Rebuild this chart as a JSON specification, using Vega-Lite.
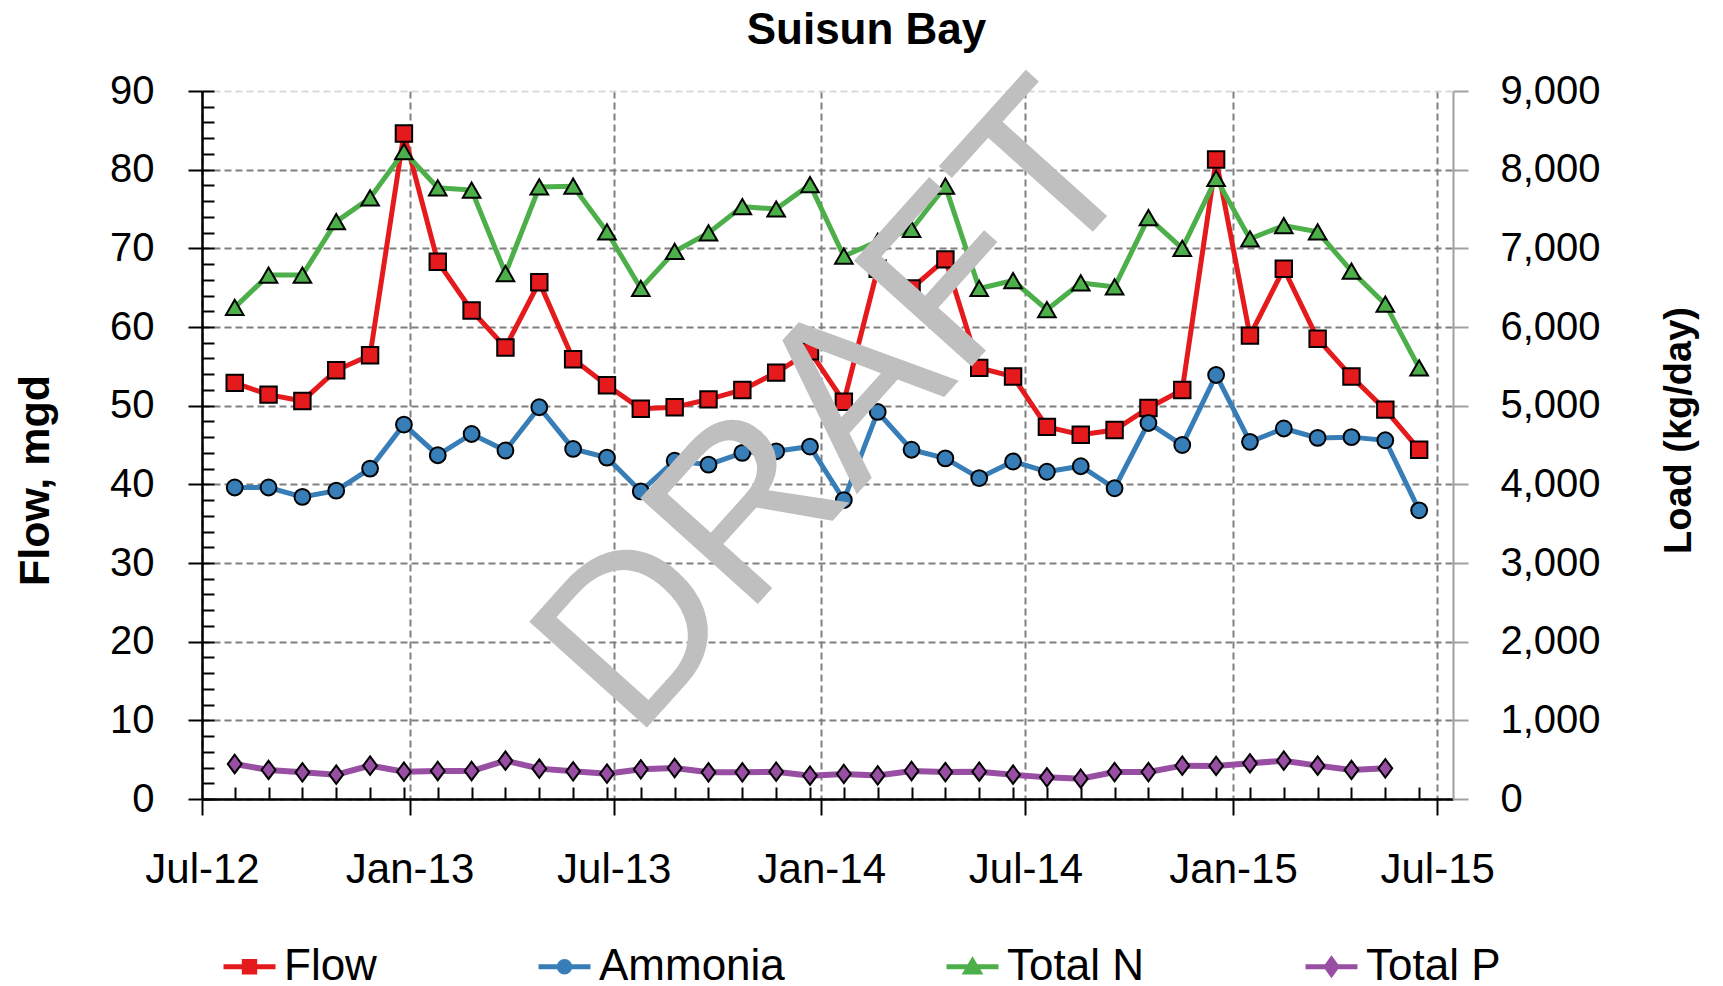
{
  "$schema": "https://vega.github.io/schema/vega-lite/v6.json",
  "width": 1251,
  "height": 708,
  "autosize": {"type": "none"},
  "padding": {"left": 202, "top": 91, "right": 270, "bottom": 187},
  "background": "white",
  "title": {"text": "Suisun Bay", "fontSize": 44, "fontWeight": "bold", "color": "black", "anchor": "middle", "frame": "group", "dx": 39, "offset": -39, "baseline": "alphabetic", "font": "Liberation Sans"},
  "config": {
    "view": {"stroke": null},
    "font": "Liberation Sans",
    "axis": {"labelFont": "Liberation Sans", "titleFont": "Liberation Sans", "labelColor": "black", "titleColor": "black"},
    "legend": {"labelFont": "Liberation Sans"}
  },
  "datasets": {
    "d": [
      {"date": "2012-07-30", "series": "Flow", "value": 52.9},
      {"date": "2012-08-29", "series": "Flow", "value": 51.4},
      {"date": "2012-09-28", "series": "Flow", "value": 50.6},
      {"date": "2012-10-28", "series": "Flow", "value": 54.5},
      {"date": "2012-11-27", "series": "Flow", "value": 56.4},
      {"date": "2012-12-27", "series": "Flow", "value": 84.6},
      {"date": "2013-01-26", "series": "Flow", "value": 68.3},
      {"date": "2013-02-25", "series": "Flow", "value": 62.1},
      {"date": "2013-03-27", "series": "Flow", "value": 57.4},
      {"date": "2013-04-26", "series": "Flow", "value": 65.7},
      {"date": "2013-05-26", "series": "Flow", "value": 55.9},
      {"date": "2013-06-25", "series": "Flow", "value": 52.6},
      {"date": "2013-07-25", "series": "Flow", "value": 49.6},
      {"date": "2013-08-24", "series": "Flow", "value": 49.8},
      {"date": "2013-09-23", "series": "Flow", "value": 50.8},
      {"date": "2013-10-23", "series": "Flow", "value": 52.0},
      {"date": "2013-11-22", "series": "Flow", "value": 54.2},
      {"date": "2013-12-22", "series": "Flow", "value": 56.9},
      {"date": "2014-01-21", "series": "Flow", "value": 50.5},
      {"date": "2014-02-20", "series": "Flow", "value": 67.4},
      {"date": "2014-03-22", "series": "Flow", "value": 64.9},
      {"date": "2014-04-21", "series": "Flow", "value": 68.6},
      {"date": "2014-05-21", "series": "Flow", "value": 54.8},
      {"date": "2014-06-20", "series": "Flow", "value": 53.7},
      {"date": "2014-07-20", "series": "Flow", "value": 47.3},
      {"date": "2014-08-19", "series": "Flow", "value": 46.3},
      {"date": "2014-09-18", "series": "Flow", "value": 46.9},
      {"date": "2014-10-18", "series": "Flow", "value": 49.7},
      {"date": "2014-11-17", "series": "Flow", "value": 52.0},
      {"date": "2014-12-17", "series": "Flow", "value": 81.3},
      {"date": "2015-01-16", "series": "Flow", "value": 58.9},
      {"date": "2015-02-15", "series": "Flow", "value": 67.4},
      {"date": "2015-03-17", "series": "Flow", "value": 58.5},
      {"date": "2015-04-16", "series": "Flow", "value": 53.7},
      {"date": "2015-05-16", "series": "Flow", "value": 49.5},
      {"date": "2015-06-15", "series": "Flow", "value": 44.4},
      {"date": "2012-07-30", "series": "Ammonia", "value": 3960},
      {"date": "2012-08-29", "series": "Ammonia", "value": 3960},
      {"date": "2012-09-28", "series": "Ammonia", "value": 3840},
      {"date": "2012-10-28", "series": "Ammonia", "value": 3920},
      {"date": "2012-11-27", "series": "Ammonia", "value": 4200},
      {"date": "2012-12-27", "series": "Ammonia", "value": 4760},
      {"date": "2013-01-26", "series": "Ammonia", "value": 4370},
      {"date": "2013-02-25", "series": "Ammonia", "value": 4640},
      {"date": "2013-03-27", "series": "Ammonia", "value": 4430},
      {"date": "2013-04-26", "series": "Ammonia", "value": 4980},
      {"date": "2013-05-26", "series": "Ammonia", "value": 4450},
      {"date": "2013-06-25", "series": "Ammonia", "value": 4340},
      {"date": "2013-07-25", "series": "Ammonia", "value": 3910},
      {"date": "2013-08-24", "series": "Ammonia", "value": 4300},
      {"date": "2013-09-23", "series": "Ammonia", "value": 4250},
      {"date": "2013-10-23", "series": "Ammonia", "value": 4400},
      {"date": "2013-11-22", "series": "Ammonia", "value": 4420},
      {"date": "2013-12-22", "series": "Ammonia", "value": 4480},
      {"date": "2014-01-21", "series": "Ammonia", "value": 3800},
      {"date": "2014-02-20", "series": "Ammonia", "value": 4920},
      {"date": "2014-03-22", "series": "Ammonia", "value": 4440},
      {"date": "2014-04-21", "series": "Ammonia", "value": 4330},
      {"date": "2014-05-21", "series": "Ammonia", "value": 4080},
      {"date": "2014-06-20", "series": "Ammonia", "value": 4290},
      {"date": "2014-07-20", "series": "Ammonia", "value": 4160},
      {"date": "2014-08-19", "series": "Ammonia", "value": 4230},
      {"date": "2014-09-18", "series": "Ammonia", "value": 3950},
      {"date": "2014-10-18", "series": "Ammonia", "value": 4780},
      {"date": "2014-11-17", "series": "Ammonia", "value": 4500},
      {"date": "2014-12-17", "series": "Ammonia", "value": 5390},
      {"date": "2015-01-16", "series": "Ammonia", "value": 4540},
      {"date": "2015-02-15", "series": "Ammonia", "value": 4710},
      {"date": "2015-03-17", "series": "Ammonia", "value": 4590},
      {"date": "2015-04-16", "series": "Ammonia", "value": 4600},
      {"date": "2015-05-16", "series": "Ammonia", "value": 4560},
      {"date": "2015-06-15", "series": "Ammonia", "value": 3670},
      {"date": "2012-07-30", "series": "Total N", "value": 6250},
      {"date": "2012-08-29", "series": "Total N", "value": 6660},
      {"date": "2012-09-28", "series": "Total N", "value": 6660},
      {"date": "2012-10-28", "series": "Total N", "value": 7340},
      {"date": "2012-11-27", "series": "Total N", "value": 7640},
      {"date": "2012-12-27", "series": "Total N", "value": 8230},
      {"date": "2013-01-26", "series": "Total N", "value": 7770},
      {"date": "2013-02-25", "series": "Total N", "value": 7740},
      {"date": "2013-03-27", "series": "Total N", "value": 6680},
      {"date": "2013-04-26", "series": "Total N", "value": 7780},
      {"date": "2013-05-26", "series": "Total N", "value": 7790},
      {"date": "2013-06-25", "series": "Total N", "value": 7210},
      {"date": "2013-07-25", "series": "Total N", "value": 6490},
      {"date": "2013-08-24", "series": "Total N", "value": 6960},
      {"date": "2013-09-23", "series": "Total N", "value": 7195},
      {"date": "2013-10-23", "series": "Total N", "value": 7530},
      {"date": "2013-11-22", "series": "Total N", "value": 7500},
      {"date": "2013-12-22", "series": "Total N", "value": 7810},
      {"date": "2014-01-21", "series": "Total N", "value": 6900},
      {"date": "2014-02-20", "series": "Total N", "value": 7090},
      {"date": "2014-03-22", "series": "Total N", "value": 7240},
      {"date": "2014-04-21", "series": "Total N", "value": 7790},
      {"date": "2014-05-21", "series": "Total N", "value": 6490},
      {"date": "2014-06-20", "series": "Total N", "value": 6590},
      {"date": "2014-07-20", "series": "Total N", "value": 6220},
      {"date": "2014-08-19", "series": "Total N", "value": 6560},
      {"date": "2014-09-18", "series": "Total N", "value": 6510},
      {"date": "2014-10-18", "series": "Total N", "value": 7390},
      {"date": "2014-11-17", "series": "Total N", "value": 7000},
      {"date": "2014-12-17", "series": "Total N", "value": 7890},
      {"date": "2015-01-16", "series": "Total N", "value": 7120},
      {"date": "2015-02-15", "series": "Total N", "value": 7290},
      {"date": "2015-03-17", "series": "Total N", "value": 7210},
      {"date": "2015-04-16", "series": "Total N", "value": 6710},
      {"date": "2015-05-16", "series": "Total N", "value": 6290},
      {"date": "2015-06-15", "series": "Total N", "value": 5480},
      {"date": "2012-07-30", "series": "Total P", "value": 445},
      {"date": "2012-08-29", "series": "Total P", "value": 369},
      {"date": "2012-09-28", "series": "Total P", "value": 339},
      {"date": "2012-10-28", "series": "Total P", "value": 309},
      {"date": "2012-11-27", "series": "Total P", "value": 424},
      {"date": "2012-12-27", "series": "Total P", "value": 347},
      {"date": "2013-01-26", "series": "Total P", "value": 356},
      {"date": "2013-02-25", "series": "Total P", "value": 356},
      {"date": "2013-03-27", "series": "Total P", "value": 487},
      {"date": "2013-04-26", "series": "Total P", "value": 386},
      {"date": "2013-05-26", "series": "Total P", "value": 352},
      {"date": "2013-06-25", "series": "Total P", "value": 322},
      {"date": "2013-07-25", "series": "Total P", "value": 377},
      {"date": "2013-08-24", "series": "Total P", "value": 394},
      {"date": "2013-09-23", "series": "Total P", "value": 339},
      {"date": "2013-10-23", "series": "Total P", "value": 339},
      {"date": "2013-11-22", "series": "Total P", "value": 347},
      {"date": "2013-12-22", "series": "Total P", "value": 296},
      {"date": "2014-01-21", "series": "Total P", "value": 318},
      {"date": "2014-02-20", "series": "Total P", "value": 300},
      {"date": "2014-03-22", "series": "Total P", "value": 356},
      {"date": "2014-04-21", "series": "Total P", "value": 343},
      {"date": "2014-05-21", "series": "Total P", "value": 347},
      {"date": "2014-06-20", "series": "Total P", "value": 309},
      {"date": "2014-07-20", "series": "Total P", "value": 275},
      {"date": "2014-08-19", "series": "Total P", "value": 258},
      {"date": "2014-09-18", "series": "Total P", "value": 343},
      {"date": "2014-10-18", "series": "Total P", "value": 343},
      {"date": "2014-11-17", "series": "Total P", "value": 424},
      {"date": "2014-12-17", "series": "Total P", "value": 420},
      {"date": "2015-01-16", "series": "Total P", "value": 453},
      {"date": "2015-02-15", "series": "Total P", "value": 487},
      {"date": "2015-03-17", "series": "Total P", "value": 424},
      {"date": "2015-04-16", "series": "Total P", "value": 369},
      {"date": "2015-05-16", "series": "Total P", "value": 390}
    ],
    "wm": [{"t": "DRAFT"}]
  },
  "resolve": {"scale": {"y": "independent"}, "axis": {"x": "independent", "y": "independent"}},
  "layer": [
    {
      "data": {"name": "d"},
      "transform": [{"filter": "datum.series === 'Flow'"}],
      "mark": {"type": "line", "color": "#E41A1C", "strokeWidth": 5},
      "encoding": {
        "x": {"field": "date", "type": "temporal",
          "scale": {"type": "utc", "nice": false, "domain": [{"year": 2012, "month": 7, "date": 1, "utc": true}, {"year": 2015, "month": 7, "date": 15, "utc": true}]},
          "axis": {"orient": "bottom", "title": null,
            "values": [{"year": 2012, "month": 7, "date": 1, "utc": true}, {"year": 2013, "month": 1, "date": 1, "utc": true}, {"year": 2013, "month": 7, "date": 1, "utc": true}, {"year": 2014, "month": 1, "date": 1, "utc": true}, {"year": 2014, "month": 7, "date": 1, "utc": true}, {"year": 2015, "month": 1, "date": 1, "utc": true}, {"year": 2015, "month": 7, "date": 1, "utc": true}],
            "labelExpr": "utcFormat(datum.value, '%b-%y')",
            "labelFontSize": 42, "labelPadding": 34, "labelFlush": false, "labelOverlap": false,
            "tickSize": 16, "tickWidth": 2, "tickColor": "black",
            "domainColor": "black", "domainWidth": 2.5,
            "grid": true, "gridColor": "#808080", "gridDash": [7, 4], "gridWidth": 2}},
        "y": {"field": "value", "type": "quantitative",
          "scale": {"domain": [0, 90], "nice": false},
          "axis": {"orient": "left", "values": [0, 10, 20, 30, 40, 50, 60, 70, 80, 90],
            "title": "Flow, mgd", "titleFontSize": 43, "titleFontWeight": "bold",
            "titleX": -167, "titleY": 389, "titleAngle": 270, "titleAlign": "center", "titleBaseline": "middle",
            "labelFontSize": 40, "labelPadding": 34,
            "tickSize": 14, "tickWidth": 2, "tickColor": "black",
            "domainColor": "black", "domainWidth": 2.5,
            "grid": true, "gridColor": {"condition": {"test": "datum.value === 90", "value": "#d9d9d9"}, "value": "#808080"}, "gridDash": [7, 4], "gridWidth": 2}}
      }
    },
    {
      "data": {"name": "d"},
      "transform": [{"filter": "datum.series === 'Flow'"}],
      "mark": {"type": "point", "shape": "square", "size": 270, "filled": true, "fill": "#E41A1C", "stroke": "black", "strokeWidth": 2, "opacity": 1},
      "encoding": {
        "x": {"field": "date", "type": "temporal", "scale": {"type": "utc", "nice": false, "domain": [{"year": 2012, "month": 7, "date": 1, "utc": true}, {"year": 2015, "month": 7, "date": 15, "utc": true}]}, "axis": null},
        "y": {"field": "value", "type": "quantitative", "scale": {"domain": [0, 90], "nice": false}, "axis": null}
      }
    },
    {
      "data": {"name": "d"},
      "transform": [{"filter": "datum.series === 'Ammonia'"}],
      "mark": {"type": "line", "color": "#377EB8", "strokeWidth": 5},
      "encoding": {
        "x": {"field": "date", "type": "temporal", "scale": {"type": "utc", "nice": false, "domain": [{"year": 2012, "month": 7, "date": 1, "utc": true}, {"year": 2015, "month": 7, "date": 15, "utc": true}]}, "axis": null},
        "y": {"field": "value", "type": "quantitative", "scale": {"domain": [0, 9000], "nice": false},
          "axis": {"orient": "right", "values": [0, 1000, 2000, 3000, 4000, 5000, 6000, 7000, 8000, 9000],
            "labelExpr": "format(datum.value, ',')",
            "title": "Load (kg/day)", "titleFontSize": 38, "titleFontWeight": "bold",
            "titleX": 226, "titleY": 339, "titleAngle": 270, "titleAlign": "center", "titleBaseline": "middle",
            "labelFontSize": 40, "labelPadding": 32,
            "tickSize": 15, "tickWidth": 2, "tickColor": "#A0A0A0",
            "domainColor": "#A0A0A0", "domainWidth": 2, "grid": false}}
      }
    },
    {
      "data": {"name": "d"},
      "transform": [{"filter": "datum.series === 'Ammonia'"}],
      "mark": {"type": "point", "shape": "circle", "size": 250, "filled": true, "fill": "#377EB8", "stroke": "black", "strokeWidth": 2, "opacity": 1},
      "encoding": {
        "x": {"field": "date", "type": "temporal", "scale": {"type": "utc", "nice": false, "domain": [{"year": 2012, "month": 7, "date": 1, "utc": true}, {"year": 2015, "month": 7, "date": 15, "utc": true}]}, "axis": null},
        "y": {"field": "value", "type": "quantitative", "scale": {"domain": [0, 9000], "nice": false}, "axis": null}
      }
    },
    {
      "data": {"name": "d"},
      "transform": [{"filter": "datum.series === 'Total N'"}],
      "mark": {"type": "line", "color": "#4DAF4A", "strokeWidth": 5},
      "encoding": {
        "x": {"field": "date", "type": "temporal", "scale": {"type": "utc", "nice": false, "domain": [{"year": 2012, "month": 7, "date": 1, "utc": true}, {"year": 2015, "month": 7, "date": 15, "utc": true}]}, "axis": null},
        "y": {"field": "value", "type": "quantitative", "scale": {"domain": [0, 9000], "nice": false}, "axis": null}
      }
    },
    {
      "data": {"name": "d"},
      "transform": [{"filter": "datum.series === 'Total N'"}],
      "mark": {"type": "point", "shape": "triangle-up", "size": 310, "filled": true, "fill": "#4DAF4A", "stroke": "black", "strokeWidth": 2, "opacity": 1},
      "encoding": {
        "x": {"field": "date", "type": "temporal", "scale": {"type": "utc", "nice": false, "domain": [{"year": 2012, "month": 7, "date": 1, "utc": true}, {"year": 2015, "month": 7, "date": 15, "utc": true}]}, "axis": null},
        "y": {"field": "value", "type": "quantitative", "scale": {"domain": [0, 9000], "nice": false}, "axis": null}
      }
    },
    {
      "data": {"name": "d"},
      "transform": [{"filter": "datum.series === 'Total P'"}],
      "mark": {"type": "line", "color": "#984EA3", "strokeWidth": 6},
      "encoding": {
        "x": {"field": "date", "type": "temporal", "scale": {"type": "utc", "nice": false, "domain": [{"year": 2012, "month": 7, "date": 1, "utc": true}, {"year": 2015, "month": 7, "date": 15, "utc": true}]}, "axis": null},
        "y": {"field": "value", "type": "quantitative", "scale": {"domain": [0, 9000], "nice": false}, "axis": null}
      }
    },
    {
      "data": {"name": "d"},
      "transform": [{"filter": "datum.series === 'Total P'"}],
      "mark": {"type": "point", "shape": "M0,-1L0.75,0L0,1L-0.75,0Z", "size": 340, "filled": true, "fill": "#984EA3", "stroke": "black", "strokeWidth": 2, "opacity": 1},
      "encoding": {
        "x": {"field": "date", "type": "temporal", "scale": {"type": "utc", "nice": false, "domain": [{"year": 2012, "month": 7, "date": 1, "utc": true}, {"year": 2015, "month": 7, "date": 15, "utc": true}]}, "axis": null},
        "y": {"field": "value", "type": "quantitative", "scale": {"domain": [0, 9000], "nice": false}, "axis": null}
      }
    },
    {
      "data": {"name": "d"},
      "transform": [{"filter": "datum.value < -999"}],
      "mark": {"type": "point", "filled": true, "opacity": 1, "strokeWidth": 5},
      "encoding": {
        "x": {"field": "date", "type": "temporal", "scale": {"type": "utc", "nice": false, "domain": [{"year": 2012, "month": 7, "date": 1, "utc": true}, {"year": 2015, "month": 7, "date": 15, "utc": true}]},
          "axis": {"orient": "bottom", "title": null, "labels": false, "domain": false, "grid": false,
            "tickSize": -12, "tickWidth": 2, "tickColor": "black",
            "values": [
              {"year": 2012, "month": 7, "date": 30, "utc": true}, {"year": 2012, "month": 8, "date": 29, "utc": true}, {"year": 2012, "month": 9, "date": 28, "utc": true}, {"year": 2012, "month": 10, "date": 28, "utc": true}, {"year": 2012, "month": 11, "date": 27, "utc": true}, {"year": 2012, "month": 12, "date": 27, "utc": true},
              {"year": 2013, "month": 1, "date": 26, "utc": true}, {"year": 2013, "month": 2, "date": 25, "utc": true}, {"year": 2013, "month": 3, "date": 27, "utc": true}, {"year": 2013, "month": 4, "date": 26, "utc": true}, {"year": 2013, "month": 5, "date": 26, "utc": true}, {"year": 2013, "month": 6, "date": 25, "utc": true},
              {"year": 2013, "month": 7, "date": 25, "utc": true}, {"year": 2013, "month": 8, "date": 24, "utc": true}, {"year": 2013, "month": 9, "date": 23, "utc": true}, {"year": 2013, "month": 10, "date": 23, "utc": true}, {"year": 2013, "month": 11, "date": 22, "utc": true}, {"year": 2013, "month": 12, "date": 22, "utc": true},
              {"year": 2014, "month": 1, "date": 21, "utc": true}, {"year": 2014, "month": 2, "date": 20, "utc": true}, {"year": 2014, "month": 3, "date": 22, "utc": true}, {"year": 2014, "month": 4, "date": 21, "utc": true}, {"year": 2014, "month": 5, "date": 21, "utc": true}, {"year": 2014, "month": 6, "date": 20, "utc": true},
              {"year": 2014, "month": 7, "date": 20, "utc": true}, {"year": 2014, "month": 8, "date": 19, "utc": true}, {"year": 2014, "month": 9, "date": 18, "utc": true}, {"year": 2014, "month": 10, "date": 18, "utc": true}, {"year": 2014, "month": 11, "date": 17, "utc": true}, {"year": 2014, "month": 12, "date": 17, "utc": true},
              {"year": 2015, "month": 1, "date": 16, "utc": true}, {"year": 2015, "month": 2, "date": 15, "utc": true}, {"year": 2015, "month": 3, "date": 17, "utc": true}, {"year": 2015, "month": 4, "date": 16, "utc": true}, {"year": 2015, "month": 5, "date": 16, "utc": true}, {"year": 2015, "month": 6, "date": 15, "utc": true}
            ]}},
        "y": {"field": "value", "type": "quantitative", "scale": {"domain": [0, 90], "nice": false},
          "axis": {"orient": "left", "title": null, "labels": false, "domain": false, "grid": false,
            "tickSize": -12, "tickWidth": 2, "tickColor": "black",
            "values": [0, 2, 4, 6, 8, 10, 12, 14, 16, 18, 20, 22, 24, 26, 28, 30, 32, 34, 36, 38, 40, 42, 44, 46, 48, 50, 52, 54, 56, 58, 60, 62, 64, 66, 68, 70, 72, 74, 76, 78, 80, 82, 84, 86, 88, 90]}},
        "fill": {"field": "series", "type": "nominal",
          "scale": {"domain": ["Flow", "Ammonia", "Total N", "Total P"], "range": ["#E41A1C", "#377EB8", "#4DAF4A", "#984EA3"]},
          "legend": {"orient": "none", "legendX": 9, "legendY": 837, "direction": "horizontal", "columns": 4, "title": null, "labelFontSize": 44, "labelColor": "black", "labelOffset": 6, "symbolSize": 2704, "symbolStrokeWidth": 5, "columnPadding": 151, "padding": 10, "labelLimit": 400}},
        "stroke": {"field": "series", "type": "nominal",
          "scale": {"domain": ["Flow", "Ammonia", "Total N", "Total P"], "range": ["#E41A1C", "#377EB8", "#4DAF4A", "#984EA3"]},
          "legend": {"orient": "none", "legendX": 9, "legendY": 837, "direction": "horizontal", "columns": 4, "title": null, "labelFontSize": 44, "labelColor": "black", "labelOffset": 6, "symbolSize": 2704, "symbolStrokeWidth": 5, "columnPadding": 151, "padding": 10, "labelLimit": 400}},
        "shape": {"field": "series", "type": "nominal",
          "scale": {"domain": ["Flow", "Ammonia", "Total N", "Total P"], "range": ["M-1,0H1M-0.2,-0.2H0.2V0.2H-0.2Z", "M-1,0H1M0.2,0A0.2,0.2 0 1,1 -0.2,0A0.2,0.2 0 1,1 0.2,0Z", "M-1,0H1M0,-0.22L0.25,0.2L-0.25,0.2Z", "M-1,0H1M0,-0.28L0.2,0L0,0.28L-0.2,0Z"]},
          "legend": {"orient": "none", "legendX": 9, "legendY": 837, "direction": "horizontal", "columns": 4, "title": null, "labelFontSize": 44, "labelColor": "black", "labelOffset": 6, "symbolSize": 2704, "symbolStrokeWidth": 5, "columnPadding": 151, "padding": 10, "labelLimit": 400}}
      }
    },
    {
      "data": {"name": "wm"},
      "mark": {"type": "text", "font": "Liberation Sans", "fontSize": 230, "angle": 312, "color": "#BFBFBF", "align": "center", "baseline": "middle"},
      "encoding": {
        "text": {"field": "t"},
        "x": {"datum": {"year": 2014, "month": 1, "date": 17, "utc": true}, "type": "temporal", "scale": {"type": "utc", "nice": false, "domain": [{"year": 2012, "month": 7, "date": 1, "utc": true}, {"year": 2015, "month": 7, "date": 15, "utc": true}]}, "axis": null},
        "y": {"datum": 49.4, "type": "quantitative", "scale": {"domain": [0, 90], "nice": false}, "axis": null}
      }
    }
  ]
}
